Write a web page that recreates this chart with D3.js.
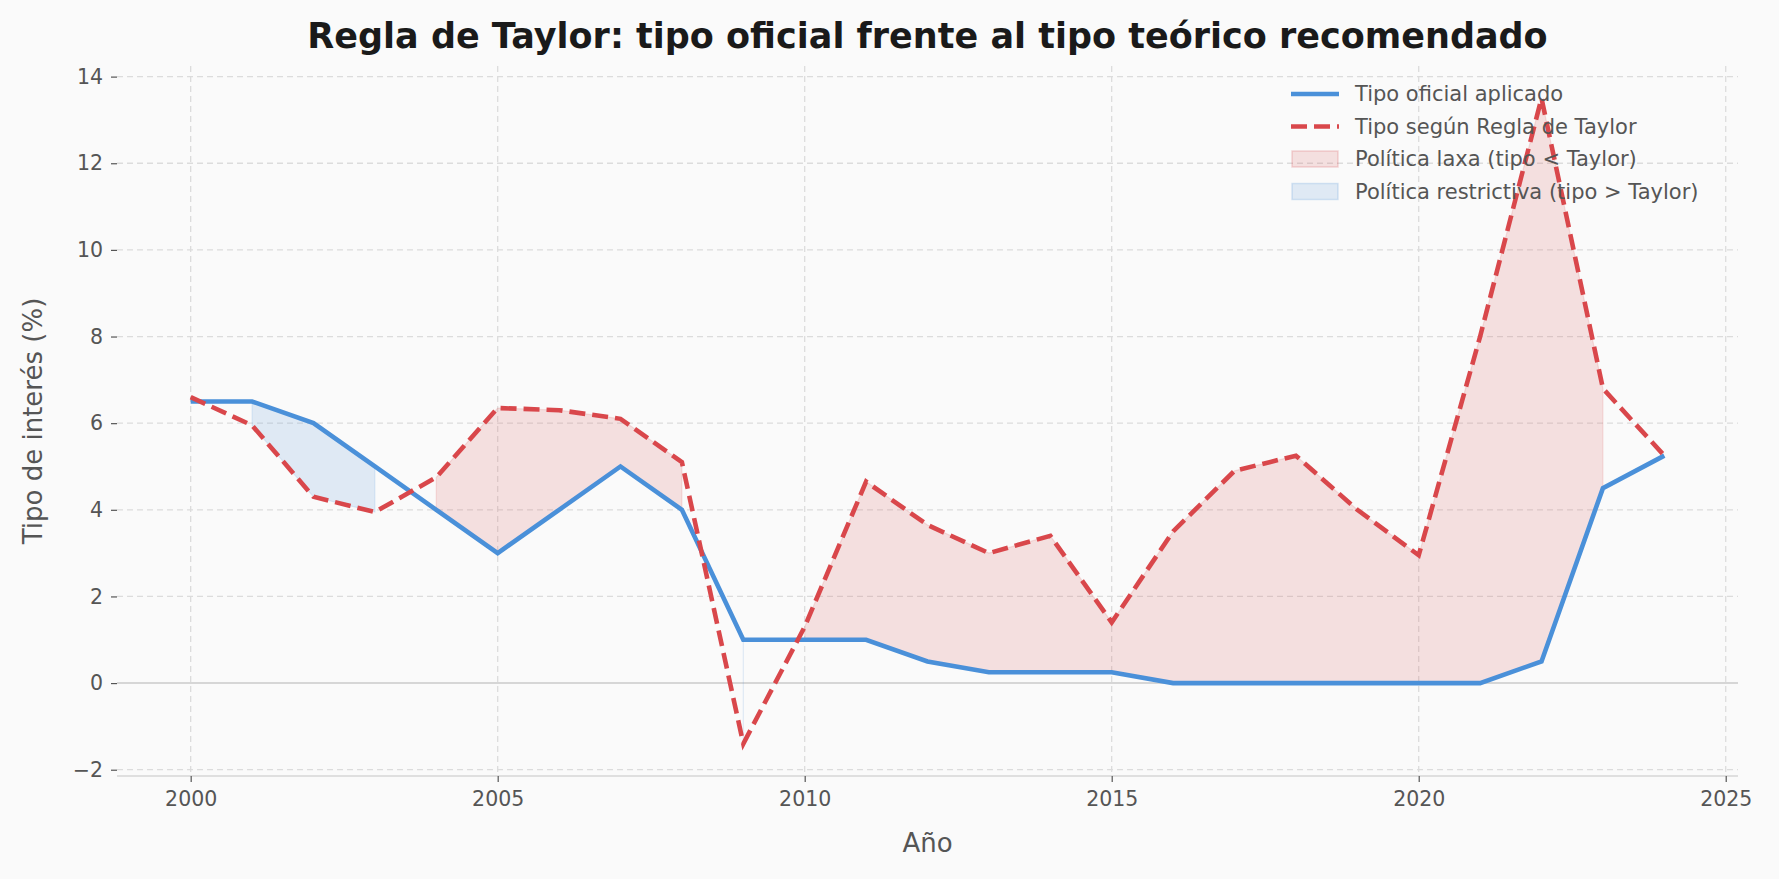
<!DOCTYPE html>
<html>
<head>
<meta charset="utf-8">
<script src="https://cdn.jsdelivr.net/npm/d3@7"></script>
<style>
  body { margin: 0; background: #fafafa; }
  text { font-family: "DejaVu Sans", sans-serif; }
</style>
</head>
<body>
<svg id="chart" width="1779" height="879"></svg>
<script>
// Years and the two series
const years = d3.range(2000, 2025);
const officialRate = [6.5, 6.5, 6.0, 5.0, 4.0, 3.0, 4.0, 5.0, 4.0, 1.0, 1.0, 1.0, 0.5,
  0.25, 0.25, 0.25, 0.0, 0.0, 0.0, 0.0, 0.0, 0.0, 0.5, 4.5, 5.25];
const taylorRate = [6.6, 5.95, 4.3, 3.95, 4.75, 6.35, 6.3, 6.1, 5.1, -1.4, 1.3, 4.65, 3.65,
  3.0, 3.4, 1.4, 3.5, 4.9, 5.25, 4.0, 2.95, 8.0, 13.5, 6.8, 5.25];
const xTicks = [2000, 2005, 2010, 2015, 2020, 2025];
const yTicks = [-2, 0, 2, 4, 6, 8, 10, 12, 14];

const blue = "#4a90d9", red = "#d9474b";
const svg = d3.select("#chart");
const m = { left: 117, right: 1738, top: 66, bottom: 776 };

const x = d3.scaleLinear().domain([1998.8, 2025.2]).range([m.left, m.right]);
const y = d3.scaleLinear().domain([-2.145, 14.245]).range([m.bottom, m.top]);

const rows = years.map((yr, i) => ({ yr, off: officialRate[i], tay: taylorRate[i] }));

// --- grid ---
const grid = svg.append("g").attr("stroke", "#dcdcdc").attr("stroke-dasharray", "6,4").attr("stroke-width", 1.3);
yTicks.forEach(t => grid.append("line").attr("x1", m.left).attr("x2", m.right).attr("y1", y(t)).attr("y2", y(t)));
xTicks.forEach(t => grid.append("line").attr("y1", m.top).attr("y2", m.bottom).attr("x1", x(t)).attr("x2", x(t)));

// bottom spine + zero line
svg.append("line").attr("x1", m.left).attr("x2", m.right).attr("y1", m.bottom).attr("y2", m.bottom)
  .attr("stroke", "#d6d6d6").attr("stroke-width", 1.6);
svg.append("line").attr("x1", m.left).attr("x2", m.right).attr("y1", y(0)).attr("y2", y(0))
  .attr("stroke", "#d6d6d6").attr("stroke-width", 2);

// --- fills (no interpolation, like fill_between with where) ---
function segments(cond) {
  const out = []; let cur = [];
  rows.forEach(d => { if (cond(d)) cur.push(d); else { if (cur.length) out.push(cur); cur = []; } });
  if (cur.length) out.push(cur);
  return out;
}
const area = d3.area().x(d => x(d.yr)).y0(d => y(d.off)).y1(d => y(d.tay));
segments(d => d.off < d.tay).forEach(seg => svg.append("path").attr("d", area(seg))
  .attr("fill", red).attr("fill-opacity", 0.15).attr("stroke", red).attr("stroke-opacity", 0.15).attr("stroke-width", 1.2));
segments(d => d.off > d.tay).forEach(seg => svg.append("path").attr("d", area(seg))
  .attr("fill", blue).attr("fill-opacity", 0.15).attr("stroke", blue).attr("stroke-opacity", 0.15).attr("stroke-width", 1.2));

// --- lines ---
svg.append("path").datum(rows)
  .attr("d", d3.line().x(d => x(d.yr)).y(d => y(d.off)))
  .attr("fill", "none").attr("stroke", blue).attr("stroke-width", 4.6);
svg.append("path").datum(rows)
  .attr("d", d3.line().x(d => x(d.yr)).y(d => y(d.tay)))
  .attr("fill", "none").attr("stroke", red).attr("stroke-width", 4.6).attr("stroke-dasharray", "16,7");

// --- axes ---
const xAxis = svg.append("g").attr("transform", `translate(0,${m.bottom})`)
  .call(d3.axisBottom(x).tickValues(xTicks).tickFormat(d3.format("d")).tickSize(6).tickPadding(9));
const yAxis = svg.append("g").attr("transform", `translate(${m.left},0)`)
  .call(d3.axisLeft(y).tickValues(yTicks).tickFormat(d => d < 0 ? "\u2212" + Math.abs(d) : d).tickSize(6).tickPadding(8));
[xAxis, yAxis].forEach(a => {
  a.select(".domain").remove();
  a.selectAll(".tick line").attr("stroke", "#555").attr("stroke-width", 1.2);
  a.selectAll(".tick text").attr("fill", "#555").style("font-size", "20.5px");
});

svg.append("text").attr("x", (m.left + m.right) / 2).attr("y", 852).attr("text-anchor", "middle")
  .attr("fill", "#555").style("font-size", "26px").text("Año");
svg.append("text").attr("transform", `translate(42,${(m.top + m.bottom) / 2}) rotate(-90)`)
  .attr("text-anchor", "middle").attr("fill", "#555").style("font-size", "26px").text("Tipo de interés (%)");

svg.append("text").attr("x", (m.left + m.right) / 2).attr("y", 48).attr("text-anchor", "middle")
  .attr("fill", "#1a1a1a").style("font-size", "35px").style("font-weight", "bold")
  .text("Regla de Taylor: tipo oficial frente al tipo teórico recomendado");

// --- legend ---
const legendItems = [
  { label: "Tipo oficial aplicado", kind: "line", color: blue },
  { label: "Tipo según Regla de Taylor", kind: "dash", color: red },
  { label: "Política laxa (tipo < Taylor)", kind: "box", color: red },
  { label: "Política restrictiva (tipo > Taylor)", kind: "box", color: blue }
];
const lg = svg.append("g").attr("transform", "translate(1291,94)");
legendItems.forEach((it, i) => {
  const g = lg.append("g").attr("transform", `translate(0,${i * 32.5})`);
  if (it.kind === "box") {
    g.append("rect").attr("x", 1).attr("y", -8).attr("width", 46).attr("height", 16)
      .attr("fill", it.color).attr("fill-opacity", 0.15).attr("stroke", it.color).attr("stroke-opacity", 0.2).attr("stroke-width", 1.5);
  } else {
    g.append("line").attr("x1", 0).attr("x2", 48).attr("stroke", it.color).attr("stroke-width", 4.6)
      .attr("stroke-dasharray", it.kind === "dash" ? "16,7" : null);
  }
  g.append("text").attr("x", 64).attr("dy", "0.35em").attr("fill", "#555").style("font-size", "21px").text(it.label);
});
</script>
</body>
</html>
